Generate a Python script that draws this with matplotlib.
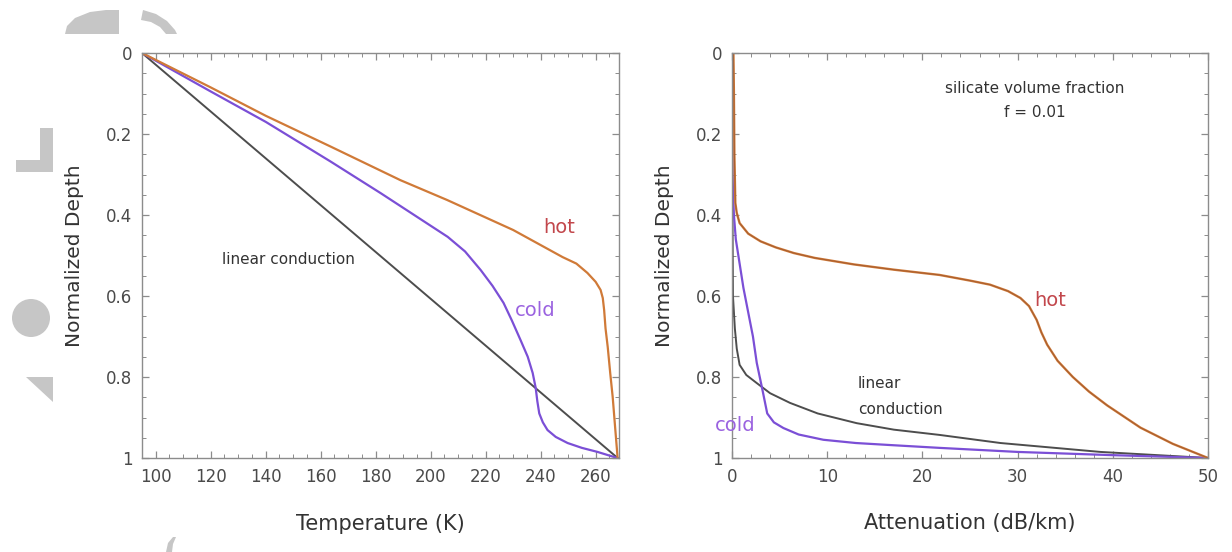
import matplotlib
matplotlib.use("Agg")
import matplotlib.pyplot as plt
from matplotlib.ticker import MultipleLocator
from matplotlib.patches import Polygon, Circle

# ---------------- data ----------------
# Left panel: temperature (K) vs normalized depth
temp_linear = [95, 268]
depth_linear = [0.0, 1.0]

temp_hot = [95, 120, 140, 163.6, 189, 206, 230, 248, 253, 257, 260, 261.8, 262.6, 263.1,
            263.6, 264.4, 265.3, 266.2, 267.1, 268]
depth_hot = [0.0, 0.085, 0.155, 0.231, 0.314, 0.363, 0.437, 0.504, 0.52, 0.543, 0.565, 0.585,
             0.605, 0.635, 0.68, 0.726, 0.79, 0.849, 0.925, 1.0]

temp_cold = [95, 120, 140, 163.6, 181.8, 206.2, 212.5, 218.2, 222.5, 226.5, 229.5, 232.7, 235.3,
             237.1, 238.2, 238.8, 239.5, 240.8, 242.5, 245.5, 249.8, 255, 260.7, 265, 268]
depth_cold = [0.0, 0.095, 0.17, 0.268, 0.346, 0.454, 0.49, 0.536, 0.575, 0.617, 0.66, 0.709, 0.75,
              0.79, 0.827, 0.86, 0.89, 0.912, 0.931, 0.948, 0.963, 0.975, 0.985, 0.994, 1.0]

# Right panel: attenuation (dB/km) vs normalized depth
att_hot = [0.15, 0.2, 0.25, 0.35, 0.5, 0.8, 1.7, 3.0, 4.6, 6.5, 8.7, 12.8, 17.0, 21.8, 25.0,
           27.1, 29.0, 30.3, 31.2, 32.0, 32.5, 33.1, 34.2, 35.8, 37.5, 39.4, 42.9, 46.3, 50.0]
dep_att_hot = [0.0, 0.1, 0.25, 0.37, 0.395, 0.42, 0.446, 0.465, 0.48, 0.494, 0.506, 0.522, 0.535,
               0.548, 0.562, 0.572, 0.588, 0.605, 0.625, 0.659, 0.69, 0.72, 0.76, 0.8, 0.836,
               0.87, 0.925, 0.965, 1.0]

att_linear = [0.0, 0.05, 0.1, 0.3, 0.5, 0.8, 1.5, 2.6, 4.0, 6.1, 9.0, 13.1, 17.0, 21.8, 28.2, 38.7, 50.0]
dep_att_linear = [0.0, 0.4, 0.6, 0.68, 0.73, 0.77, 0.795, 0.815, 0.84, 0.864, 0.89, 0.914, 0.93,
                  0.943, 0.963, 0.985, 1.0]

att_cold = [0.0, 0.05, 0.2, 0.4, 0.8, 1.2, 1.7, 2.2, 2.6, 3.2, 3.7, 4.4, 5.4, 7.0, 9.6, 13.0,
            16.6, 21.8, 30.0, 40.0, 50.0]
dep_att_cold = [0.0, 0.3, 0.4, 0.46, 0.52, 0.58, 0.64, 0.7, 0.765, 0.832, 0.89, 0.912, 0.926,
                0.942, 0.955, 0.963, 0.968, 0.975, 0.985, 0.993, 1.0]

y_ticks = [0, 0.2, 0.4, 0.6, 0.8, 1.0]
y_ticklabels = ["0", "0.2", "0.4", "0.6", "0.8", "1"]

# ---------------- style ----------------
C_HOT = "#d07a38"
C_COLD = "#7b4fd6"
C_LIN = "#4d4d4d"
C_HOT_TXT = "#c2474c"
C_COLD_TXT = "#9b63e0"
C_AX = "#8c8c8c"
C_TXT = "#4a4a4a"

plt.rcParams["font.family"] = ["DejaVu Sans"]

W, H = 1232, 552
fig = plt.figure(figsize=(W / 100, H / 100), dpi=100)
fig.patch.set_facecolor("white")

# decorative gray logo fragments at the left edge (background)
bg = fig.add_axes([0, 0, 1, 1], zorder=-5)
bg.set_xlim(0, W)
bg.set_ylim(H, 0)
bg.axis("off")
gray = "#c6c6c6"
bg.add_patch(Polygon([(65, 34), (67, 26), (75, 18), (90, 12), (106, 10), (119, 10), (119, 34)],
                     closed=True, color=gray, lw=0))
bg.add_patch(Polygon([(143, 10), (156, 14), (167, 21), (175, 30), (177, 34), (166, 34),
                      (160, 27), (151, 22), (141, 20)], closed=True, color=gray, lw=0))
bg.add_patch(Polygon([(40, 128), (53, 128), (53, 172), (16, 172), (16, 160), (40, 160)],
                     closed=True, color=gray, lw=0))
bg.add_patch(Circle((31, 318), 19, color=gray, lw=0))
bg.add_patch(Polygon([(26, 377), (53, 377), (53, 402)], closed=True, color=gray, lw=0))
bg.add_patch(Polygon([(166, 552), (168, 543), (173, 537), (176, 537), (173, 544), (172, 552)],
                     closed=True, color=gray, lw=0))


def style_axes(ax, xmaj, xmin):
    for s in ax.spines.values():
        s.set_color(C_AX)
        s.set_linewidth(1.0)
    ax.set_ylim(1, 0)
    ax.set_yticks(y_ticks)
    ax.set_yticklabels(y_ticklabels)
    ax.yaxis.set_minor_locator(MultipleLocator(0.05))
    ax.xaxis.set_major_locator(MultipleLocator(xmaj))
    ax.xaxis.set_minor_locator(MultipleLocator(xmin))
    ax.tick_params(which="both", direction="in", top=True, right=True, color=C_AX)
    ax.tick_params(which="major", length=5, width=0.9, labelsize=12, labelcolor=C_TXT, pad=7)
    ax.tick_params(which="minor", length=3, width=0.7)
    ax.set_ylabel("Normalized Depth", fontsize=14.5, color="#333333", labelpad=16)


# ---------------- left panel ----------------
ax1 = fig.add_axes([142 / W, 1 - 458 / H, 477 / W, 405 / H])
ax1.plot(temp_linear, depth_linear, color=C_LIN, lw=1.4)
ax1.plot(temp_cold, depth_cold, color=C_COLD, lw=1.6)
ax1.plot(temp_hot, depth_hot, color=C_HOT, lw=1.6)
ax1.set_xlim(95, 268.5)
style_axes(ax1, 20, 5)
ax1.set_xlabel("Temperature (K)", fontsize=15, color="#333333", labelpad=20)
ax1.text(241, 0.43, "hot", color=C_HOT_TXT, fontsize=14, ha="left", va="center")
ax1.text(230.5, 0.637, "cold", color=C_COLD_TXT, fontsize=14, ha="left", va="center")
ax1.text(124, 0.51, "linear conduction", color="#333333", fontsize=11, ha="left", va="center")

# ---------------- right panel ----------------
ax2 = fig.add_axes([732 / W, 1 - 458 / H, 476 / W, 405 / H])
ax2.plot(att_linear, dep_att_linear, color=C_LIN, lw=1.4)
ax2.plot(att_cold, dep_att_cold, color=C_COLD, lw=1.6)
ax2.plot(att_hot, dep_att_hot, color=C_HOT, lw=1.7)
ax2.plot(att_hot, dep_att_hot, color="#8a4a2a", lw=0.7, alpha=0.6)
ax2.set_xlim(0, 50)
style_axes(ax2, 10, 2)
ax2.set_xlabel("Attenuation (dB/km)", fontsize=15, color="#333333", labelpad=20)
ax2.text(31.8, 0.087, "silicate volume fraction", color="#333333", fontsize=11, ha="center", va="center")
ax2.text(31.8, 0.146, "f = 0.01", color="#333333", fontsize=11, ha="center", va="center")
ax2.text(31.8, 0.61, "hot", color=C_HOT_TXT, fontsize=14, ha="left", va="center")
ax2.text(13.2, 0.815, "linear", color="#333333", fontsize=11, ha="left", va="center")
ax2.text(13.2, 0.88, "conduction", color="#333333", fontsize=11, ha="left", va="center")
ax2.text(-1.8, 0.92, "cold", color=C_COLD_TXT, fontsize=14, ha="left", va="center")

fig.savefig("out.png", dpi=100)
